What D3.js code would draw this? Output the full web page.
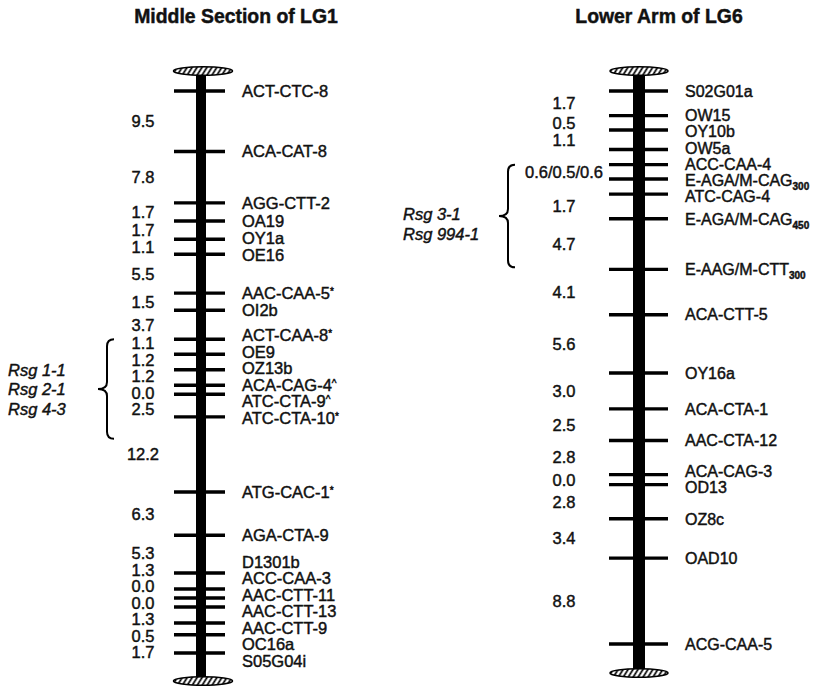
<!DOCTYPE html>
<html>
<head>
<meta charset="utf-8">
<script src="https://cdn.jsdelivr.net/npm/d3@7"></script>
<style>
  html, body { margin: 0; padding: 0; background: #fff; }
  svg { display: block; font-family: "Liberation Sans", Arial, Helvetica, sans-serif; }
  svg text { fill: #111; stroke: #111; stroke-width: 0.45px; }
</style>
</head>
<body>
<svg id="chart" width="822" height="686"></svg>
<script>
// Markers of each linkage group, top to bottom.
// "_nnn" marks a fragment-size subscript, a trailing * or ^ is a superscript flag.
const lg1Markers = [
  "ACT-CTC-8", "ACA-CAT-8", "AGG-CTT-2", "OA19", "OY1a", "OE16", "AAC-CAA-5*", "OI2b",
  "ACT-CAA-8*", "OE9", "OZ13b", "ACA-CAG-4^", "ATC-CTA-9^", "ATC-CTA-10*", "ATG-CAC-1*",
  "AGA-CTA-9", "D1301b", "ACC-CAA-3", "AAC-CTT-11", "AAC-CTT-13", "AAC-CTT-9", "OC16a", "S05G04i"
];
// Map distances (cM) between consecutive markers
const lg1Distances = [9.5, 7.8, 1.7, 1.7, 1.1, 5.5, 1.5, 3.7, 1.1, 1.2, 1.2, 0.0, 2.5, 12.2, 6.3, 5.3, 1.3, 0.0, 0.0, 1.3, 0.5, 1.7];

const lg6Markers = [
  "S02G01a", "OW15", "OY10b", "OW5a", "ACC-CAA-4", "E-AGA/M-CAG_300", "ATC-CAG-4",
  "E-AGA/M-CAG_450", "E-AAG/M-CTT_300", "ACA-CTT-5", "OY16a", "ACA-CTA-1", "AAC-CTA-12",
  "ACA-CAG-3", "OD13", "OZ8c", "OAD10", "ACG-CAA-5"
];
const lg6Distances = [1.7, 0.5, 1.1, 0.6, 0.5, 0.6, 1.7, 4.7, 4.1, 5.6, 3.0, 2.5, 2.8, 0.0, 2.8, 3.4, 8.8];

// Runs of consecutive intervals (first, last index) that share a single distance label
const lg1SharedDistances = [];
const lg6SharedDistances = [[3, 5]];

// Resistance gene clusters: marker span and gene names
const lg1Genes = ["Rsg 1-1", "Rsg 2-1", "Rsg 4-3"];
const lg1GeneSpan = ["ACT-CAA-8*", "ATC-CTA-10*"];
const lg6Genes = ["Rsg 3-1", "Rsg 994-1"];
const lg6GeneSpan = ["ACC-CAA-4", "E-AAG/M-CTT_300"];

const titles = ["Middle Section of LG1", "Lower Arm of LG6"];

const svg = d3.select("#chart");
const fmt = d3.format(".1f");

// diagonal hatch used for the chromosome end caps
const defs = svg.append("defs");
defs.append("pattern")
  .attr("id", "hatch")
  .attr("patternUnits", "userSpaceOnUse")
  .attr("width", 4.2).attr("height", 10)
  .attr("patternTransform", "rotate(32)")
  .call(p => {
    p.append("rect").attr("width", 4.2).attr("height", 10).attr("fill", "#fff");
    p.append("line").attr("x1", 1.2).attr("x2", 1.2).attr("y1", 0).attr("y2", 10)
      .attr("stroke", "#000").attr("stroke-width", 1.7);
  });

// Spread labels so neighbours keep at least `gap` px apart, each cluster centred on its targets
function spread(desired, gap) {
  let clusters = desired.map(d => ({ n: 1, sum: d }));
  const first = c => c.sum / c.n - (c.n - 1) * gap / 2;
  let merged = true;
  while (merged) {
    merged = false;
    for (let i = 0; i < clusters.length - 1; i++) {
      const a = clusters[i], b = clusters[i + 1];
      if (first(b) < first(a) + a.n * gap - 0.01) {
        clusters.splice(i, 2, { n: a.n + b.n, sum: a.sum + b.sum });
        merged = true;
        break;
      }
    }
  }
  const out = [];
  clusters.forEach(c => { for (let k = 0; k < c.n; k++) out.push(first(c) + k * gap); });
  return out;
}

function writeMarker(text, name, subSize) {
  const m = name.match(/^(.*?)(?:_(\d+))?([*^])?$/);
  text.append("tspan").text(m[1]);
  if (m[2]) text.append("tspan").attr("font-size", subSize).attr("font-weight", "bold").attr("dy", 4).text(m[2]);
  if (m[3]) text.append("tspan").attr("font-size", 10).attr("dy", -4).text(m[3]);
}

function drawGroup(cfg, title, markers, distances, shared, genes, span) {
  const g = svg.append("g");
  const n = distances.length;
  const cum = [0, ...d3.cumsum(distances)];

  // every interval is drawn with a fixed minimum gap plus a length proportional to its cM value
  const cmScale = d3.scaleLinear()
    .domain([0, cum[n]])
    .range([cfg.top, cfg.bottom - n * cfg.minGap]);
  const ys = cum.map((c, i) => cmScale(c) + i * cfg.minGap);

  const capTop = ys[0] - cfg.padTop;
  const capBottom = ys[n] + cfg.padBottom;

  // title
  g.append("text")
    .attr("x", cfg.titleX).attr("y", 23)
    .attr("text-anchor", "middle")
    .attr("font-weight", "bold").attr("font-size", 19.4)
    .text(title);

  // chromosome bar
  g.append("rect")
    .attr("x", cfg.cx - cfg.barW / 2).attr("y", capTop)
    .attr("width", cfg.barW).attr("height", capBottom - capTop)
    .attr("fill", "#000");

  // end caps
  g.selectAll("ellipse.cap").data([capTop, capBottom]).join("ellipse")
    .attr("class", "cap")
    .attr("cx", cfg.cx + cfg.capDx).attr("cy", d => d)
    .attr("rx", cfg.capRx).attr("ry", 4.2)
    .attr("fill", "url(#hatch)")
    .attr("stroke", "#000").attr("stroke-width", 1.6);

  // marker ticks
  g.selectAll("line.tick").data(ys).join("line")
    .attr("class", "tick")
    .attr("x1", cfg.cx - cfg.tickL).attr("x2", cfg.cx + cfg.tickR)
    .attr("y1", d => d).attr("y2", d => d)
    .attr("stroke", "#000").attr("stroke-width", 3.4);

  // marker names
  const labelYs = spread(ys, cfg.lineGap);
  g.selectAll("text.marker").data(markers).join("text")
    .attr("class", "marker")
    .attr("x", cfg.labelX)
    .attr("y", (d, i) => labelYs[i] + cfg.fontSize * 0.36)
    .attr("font-size", cfg.fontSize)
    .each(function (d) { writeMarker(d3.select(this), d, 10); });

  // distance labels between markers
  const sharedStart = new Map(shared.map(([a, b]) => [a, b]));
  const dist = [];
  for (let i = 0; i < n; i++) {
    const last = sharedStart.has(i) ? sharedStart.get(i) : i;
    dist.push({
      text: distances.slice(i, last + 1).map(fmt).join("/"),
      y: (ys[i] + ys[last + 1]) / 2
    });
    i = last;
  }
  const distYs = spread(dist.map(d => d.y), cfg.distGap);
  g.selectAll("text.dist").data(dist).join("text")
    .attr("class", "dist")
    .attr("x", cfg.distX)
    .attr("y", (d, i) => distYs[i] + cfg.distSize * 0.36)
    .attr("text-anchor", "middle")
    .attr("font-size", cfg.distSize)
    .text(d => d.text);

  // brace around the resistance gene cluster
  const top = ys[markers.indexOf(span[0])] + cfg.braceTopPad;
  const bottom = ys[markers.indexOf(span[1])] + cfg.braceBottomPad;
  const mid = (top + bottom) / 2;
  const x = cfg.braceX, hook = 7, tip = 9, r = 7;
  const path = d3.path();
  path.moveTo(x + hook, top);
  path.quadraticCurveTo(x, top, x, top + r);
  path.lineTo(x, mid - r);
  path.quadraticCurveTo(x, mid, x - tip, mid);
  path.quadraticCurveTo(x, mid, x, mid + r);
  path.lineTo(x, bottom - r);
  path.quadraticCurveTo(x, bottom, x + hook, bottom);
  g.append("path")
    .attr("d", path.toString())
    .attr("fill", "none").attr("stroke", "#000").attr("stroke-width", 2);

  g.selectAll("text.gene").data(genes).join("text")
    .attr("class", "gene")
    .attr("x", cfg.geneX)
    .attr("y", (d, i) => mid + cfg.geneDy + (i - (genes.length - 1) / 2) * 19.5 + 16.5 * 0.36)
    .attr("font-size", 16.5)
    .attr("font-style", "italic")
    .text(d => d);
}

drawGroup({
  cx: 201, barW: 10, tickL: 27, tickR: 24, capDx: 2, capRx: 29.5,
  top: 91, bottom: 653, minGap: 9, padTop: 20, padBottom: 28,
  titleX: 236, labelX: 242, fontSize: 16.5, lineGap: 16.5,
  distX: 143, distSize: 16.5, distGap: 16.5,
  braceX: 107, braceTopPad: 0, braceBottomPad: 22, geneX: 8, geneDy: 0
}, titles[0], lg1Markers, lg1Distances, lg1SharedDistances, lg1Genes, lg1GeneSpan);

drawGroup({
  cx: 639, barW: 12, tickL: 30, tickR: 29, capDx: 0, capRx: 29,
  top: 91, bottom: 644, minGap: 10, padTop: 20, padBottom: 29,
  titleX: 659, labelX: 685, fontSize: 16, lineGap: 16,
  distX: 564, distSize: 16.5, distGap: 16.5,
  braceX: 508, braceTopPad: 0, braceBottomPad: -2, geneX: 403, geneDy: 8
}, titles[1], lg6Markers, lg6Distances, lg6SharedDistances, lg6Genes, lg6GeneSpan);
</script>
</body>
</html>
